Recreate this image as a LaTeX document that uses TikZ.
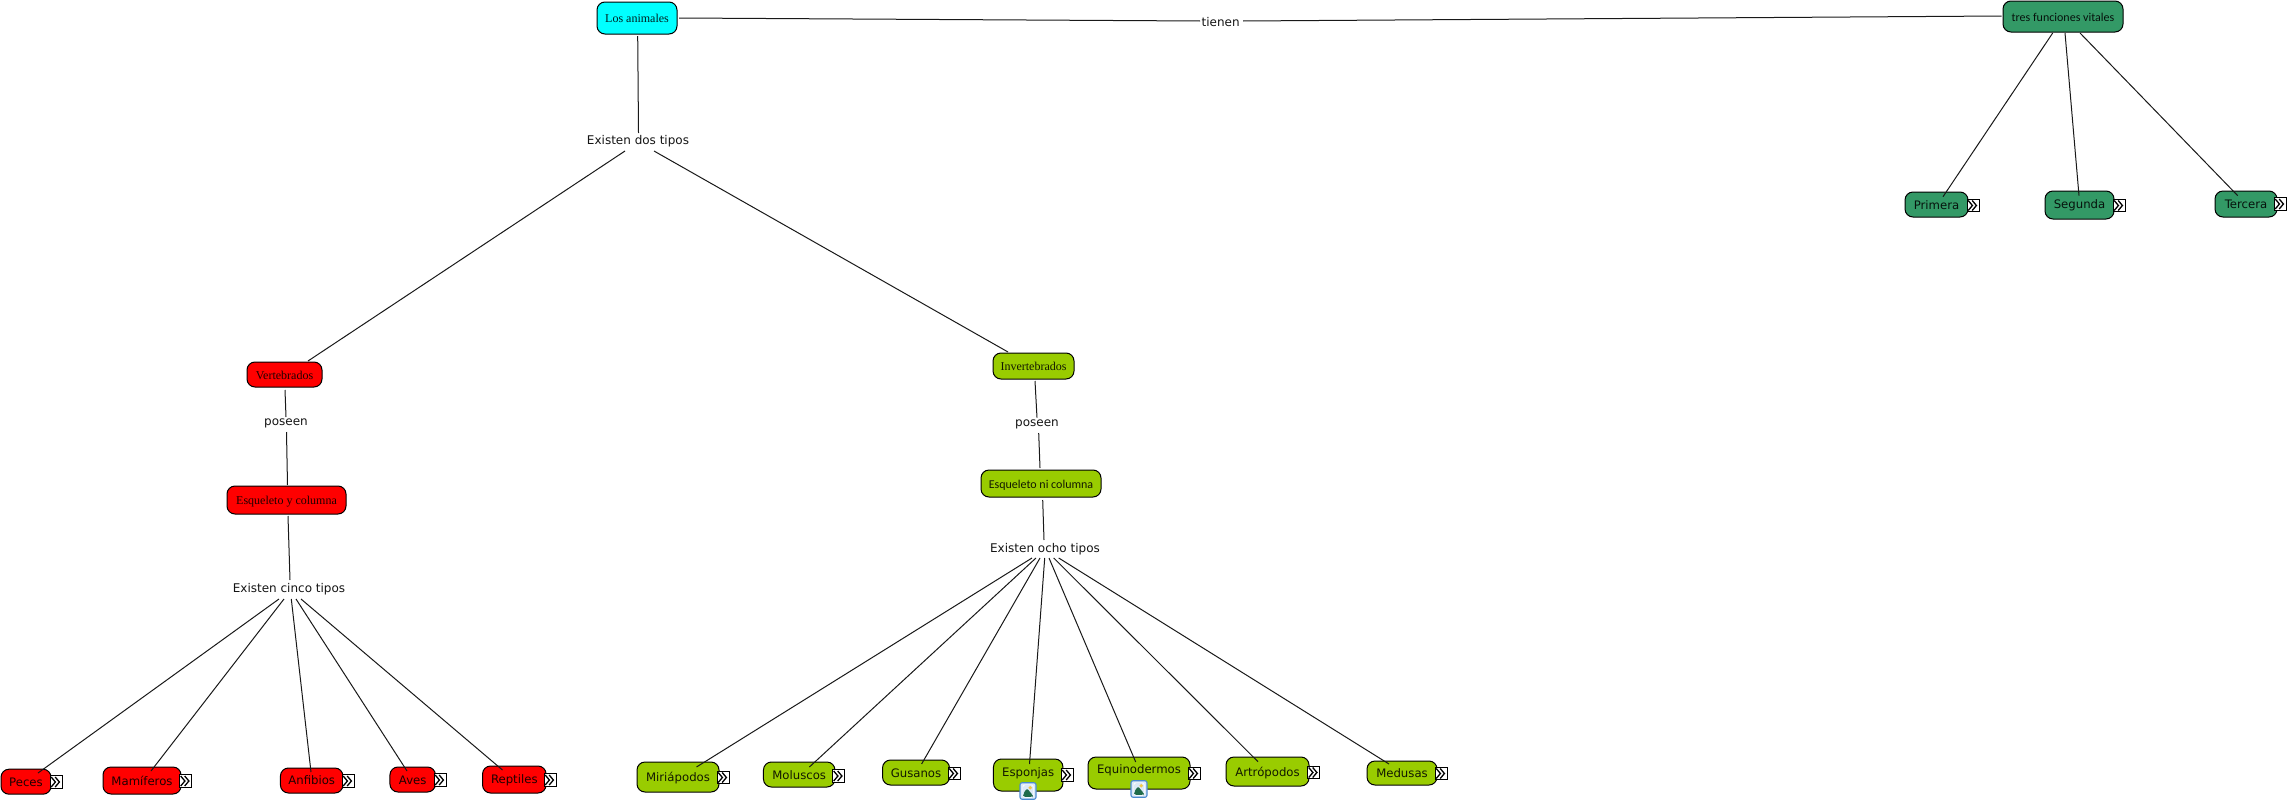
\documentclass[tikz,border=0pt]{standalone}
\usepackage{fontspec}
\setmainfont{DejaVu Sans}
\newfontfamily\serifbox{Liberation Serif}
\newfontfamily\calibox{Carlito}
\definecolor{cmcyan}{HTML}{00FFFF}
\definecolor{cmteal}{HTML}{339966}
\definecolor{cmred}{HTML}{FF0000}
\definecolor{cmlime}{HTML}{99CC00}
\definecolor{cmblue}{HTML}{4A8AD0}
\definecolor{cmpale}{HTML}{DCE9F7}
\definecolor{cmhill}{HTML}{1F6B4A}
\definecolor{cmsun}{HTML}{F2C94C}
\tikzset{
  concept/.style={draw=black,line width=1pt,rounded corners=8pt,inner sep=0pt,
    font=\fontsize{11.7}{14}\selectfont,text=black,text opacity=.88,
    text height=9pt,text depth=0pt,align=center},
  serifconcept/.style={concept,font=\fontsize{12}{14}\serifbox},
  caliconcept/.style={concept,font=\fontsize{12}{14}\calibox},
  raised/.style={text depth=#1},
  phrase/.style={inner sep=0pt,text=black,text opacity=.92,font=\fontsize{12}{14}\selectfont},
  conn/.style={draw=black!90,line width=1pt},
  chevbox/.style={draw=black,fill=white,line width=.9pt,minimum width=12pt,minimum height=12.5pt,inner sep=0pt,
    path picture={
      \draw[black,line width=1.3pt] ([shift={(-4.8,-5)}]path picture bounding box.center) -- ++(4.2,5) -- ++(-4.2,5);
      \draw[black,line width=1.3pt] ([shift={(-.8,-5)}]path picture bounding box.center) -- ++(4.2,5) -- ++(-4.2,5);
    }},
  imgbox/.style={draw=cmblue,fill=cmpale,line width=1.1pt,rounded corners=2pt,minimum width=16pt,minimum height=16.5pt,inner sep=0pt,
    path picture={
      \fill[white] ([shift={(-5.5,-6.5)}]path picture bounding box.center) rectangle ++(11,13);
      \fill[cmpale] ([shift={(-4.8,-5.8)}]path picture bounding box.center) rectangle ++(9.6,11.6);
      \fill[cmhill] ([shift={(-4.8,5.8)}]path picture bounding box.center) -- ++(0,-3) -- ++(3.8,-5.5) -- ++(5.8,7) -- ++(0,1.5) -- cycle;
      \fill[cmsun] ([shift={(2.2,-3.2)}]path picture bounding box.center) circle (1.9);
    }}
}
\newcommand{\link}[4]{\draw[conn] ([shift={(#2)}]#1.center) -- ([shift={(#4)}]#3.center);}
\begin{document}
\begin{tikzpicture}[x=1pt,y=-1pt]
\useasboundingbox (0,0) rectangle (2289,803);
% top level
\node[serifconcept,fill=cmcyan,minimum width=80pt,minimum height=32pt] (los) at (637,18) {Los animales};
\node[caliconcept,fill=cmteal,minimum width=120pt,minimum height=31pt] (tres) at (2063,16.5) {tres funciones vitales};
\node[concept,fill=cmteal,raised=-1pt,minimum width=63pt,minimum height=25pt] (pri) at (1936.5,204.5) {Primera};
\node[concept,fill=cmteal,raised=2pt,minimum width=69pt,minimum height=28pt] (seg) at (2079.5,205) {Segunda};
\node[concept,fill=cmteal,raised=1pt,minimum width=62pt,minimum height=26pt] (ter) at (2246,204) {Tercera};
% branches
\node[serifconcept,fill=cmred,minimum width=75pt,minimum height=25pt] (ver) at (284.5,374.5) {Vertebrados};
\node[serifconcept,fill=cmred,minimum width=119pt,minimum height=28pt] (eyc) at (286.5,500) {Esqueleto y columna};
\node[serifconcept,fill=cmlime,minimum width=81pt,minimum height=26pt] (inv) at (1033.5,366) {Invertebrados};
\node[caliconcept,fill=cmlime,minimum width=120pt,minimum height=27pt] (enc) at (1041,483.5) {Esqueleto ni columna};
% linking phrases
\node[phrase] (tie) at (1220.7,22) {tienen};
\node[phrase] (dos) at (638,141.5) {Existen dos tipos};
\node[phrase] (pos1) at (286,423) {poseen};
\node[phrase] (pos2) at (1037,424) {poseen};
\node[phrase] (cin) at (289,589) {Existen cinco tipos};
\node[phrase] (och) at (1045,549) {Existen ocho tipos};
% vertebrates
\node[concept,fill=cmred,minimum width=50pt,minimum height=25pt] (pec) at (26,781.7) {Peces};
\node[concept,fill=cmred,minimum width=78pt,minimum height=27pt] (mam) at (142,780.5) {Mamíferos};
\node[concept,fill=cmred,raised=1pt,minimum width=62.5pt,minimum height=25pt] (anf) at (311.7,780.5) {Anfibios};
\node[concept,fill=cmred,minimum width=45.5pt,minimum height=25pt] (ave) at (412.7,779.5) {Aves};
\node[concept,fill=cmred,raised=2pt,minimum width=63.5pt,minimum height=27pt] (rep) at (514.3,779.5) {Reptiles};
% invertebrates
\node[concept,fill=cmlime,minimum width=82pt,minimum height=30pt] (mir) at (678,777) {Miriápodos};
\node[concept,fill=cmlime,minimum width=71.5pt,minimum height=25pt] (mol) at (799.2,774.5) {Moluscos};
\node[concept,fill=cmlime,minimum width=67pt,minimum height=25pt] (gus) at (916,772.5) {Gusanos};
\node[concept,fill=cmlime,raised=6pt,minimum width=69.5pt,minimum height=32pt] (esp) at (1028.2,775) {Esponjas};
\node[concept,fill=cmlime,raised=8pt,minimum width=102pt,minimum height=32pt] (equ) at (1139,773) {Equinodermos};
\node[concept,fill=cmlime,minimum width=83pt,minimum height=29pt] (art) at (1267.5,771.5) {Artrópodos};
\node[concept,fill=cmlime,minimum width=70pt,minimum height=24pt] (med) at (1402,773) {Medusas};
% link icons
\node[chevbox] (cpri) at (1973,205.5) {};
\node[chevbox] (cseg) at (2119,205.5) {};
\node[chevbox] (cter) at (2280,204) {};
\node[chevbox] (cpec) at (56,782) {};
\node[chevbox] (cmam) at (185.5,781) {};
\node[chevbox] (canf) at (348,781) {};
\node[chevbox] (cave) at (440,780) {};
\node[chevbox] (crep) at (550,780) {};
\node[chevbox] (cmir) at (723,777.5) {};
\node[chevbox] (cmol) at (838.5,776) {};
\node[chevbox] (cgus) at (954,773.5) {};
\node[chevbox] (cesp) at (1067,775) {};
\node[chevbox] (cequ) at (1194,773.5) {};
\node[chevbox] (cart) at (1313.5,772.5) {};
\node[chevbox] (cmed) at (1441,773.5) {};
\node[imgbox] (iesp) at (1028,791) {};
\node[imgbox] (iequ) at (1139,789) {};
% connectors
\link{los}{42,0}{tie}{-20.7,-1}
\link{tie}{22.3,-1}{tres}{-61.3,-0.5}
\link{los}{0.7,18}{dos}{0.5,-8.5}
\link{dos}{-13,9.5}{ver}{23.5,-13.5}
\link{dos}{16,9.5}{inv}{-25.5,-14}
\link{ver}{0.5,15.5}{pos1}{0,-6}
\link{pos1}{0.5,9}{eyc}{1,-15}
\link{eyc}{1.5,16}{cin}{1,-9}
\link{inv}{1.5,15}{pos2}{0,-6.3}
\link{pos2}{1.7,9}{enc}{-1,-15.5}
\link{enc}{1.7,16.5}{och}{-1,-9}
\link{cin}{-10,10}{pec}{12,-8.7}
\link{cin}{-5,10}{mam}{9,-9.5}
\link{cin}{2.3,10}{anf}{-0.7,-8.5}
\link{cin}{7,10}{ave}{-5.7,-8.5}
\link{cin}{12,10}{rep}{-11.8,-9.5}
\link{och}{-13,9}{mir}{18.5,-10}
\link{och}{-9,9}{mol}{10.2,-7.5}
\link{och}{-5,9}{gus}{5.6,-8.5}
\link{och}{-0.3,9}{esp}{1.3,-11}
\link{och}{4,9}{equ}{-3.3,-11}
\link{och}{8.7,9}{art}{-9.5,-9.8}
\link{och}{13.7,9}{med}{-13,-9}
\link{tres}{-10.3,16.5}{pri}{6.5,-7.8}
\link{tres}{2,16.5}{seg}{-0.5,-9.3}
\link{tres}{17,16.5}{ter}{-8.3,-8.3}
\end{tikzpicture}
\end{document}
